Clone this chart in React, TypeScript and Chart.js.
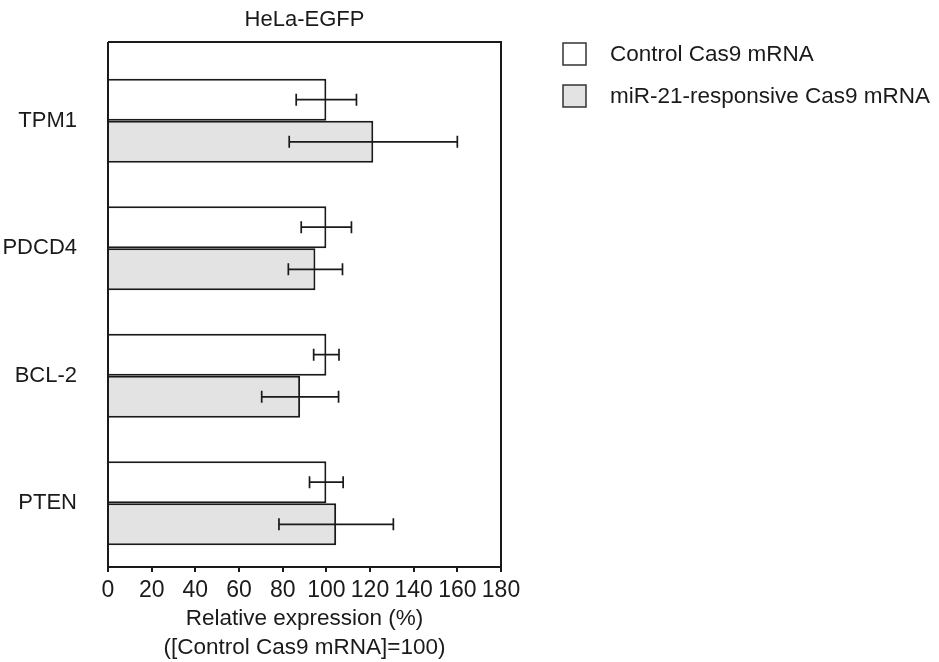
import React, { useEffect, useRef } from 'react';
import { Chart, registerables } from 'chart.js';

Chart.register(...registerables);

const categories = ['TPM1', 'PDCD4', 'BCL-2', 'PTEN'];
const seriesLabels = ['Control Cas9 mRNA', 'miR-21-responsive Cas9 mRNA'];
const controlValues = [100, 100, 100, 100];
const controlErrors = [13.8, 11.5, 5.8, 7.7];
const mirValues = [121.5, 95, 88, 104.5];
const mirErrors = [38.5, 12.4, 17.6, 26.2];
const chartTitle = 'HeLa-EGFP';
const xAxisTitle = ['Relative expression (%)', '([Control Cas9 mRNA]=100)'];
const xMin = 0;
const xMax = 180;
const xStep = 20;

const FONT = "'Liberation Sans', Arial, sans-serif";
const INK = '#1a1a1a';
const fills = ['#ffffff', '#e3e3e3'];
const errors = [controlErrors, mirErrors];

const framePlugin = {
  id: 'frameAndExtras',
  afterDatasetsDraw(chart: any) {
    const ctx = chart.ctx;
    const { left, right, top, bottom } = chart.chartArea;
    const xScale = chart.scales.x;
    ctx.save();
    // error bars
    ctx.strokeStyle = INK;
    ctx.lineWidth = 1.7;
    chart.data.datasets.forEach((ds: any, di: number) => {
      const meta = chart.getDatasetMeta(di);
      meta.data.forEach((bar: any, i: number) => {
        const v = ds.data[i];
        const e = errors[di][i];
        const x1 = xScale.getPixelForValue(v - e);
        const x2 = xScale.getPixelForValue(v + e);
        const y = bar.y;
        ctx.beginPath();
        ctx.moveTo(x1, y);
        ctx.lineTo(x2, y);
        ctx.moveTo(x1, y - 6);
        ctx.lineTo(x1, y + 6);
        ctx.moveTo(x2, y - 6);
        ctx.lineTo(x2, y + 6);
        ctx.stroke();
      });
    });
    // frame: top and right edges
    ctx.strokeStyle = INK;
    ctx.lineWidth = 2;
    const frameTop = top - 15;
    ctx.beginPath();
    ctx.moveTo(left, frameTop);
    ctx.lineTo(right, frameTop);
    ctx.lineTo(right, bottom);
    ctx.moveTo(left, frameTop);
    ctx.lineTo(left, bottom);
    ctx.stroke();
    // legend
    const bx = right + 62;
    ctx.font = `22.5px ${FONT}`;
    ctx.textBaseline = 'middle';
    ctx.textAlign = 'left';
    chart.data.datasets.forEach((ds: any, di: number) => {
      const by = frameTop + 1 + di * 42;
      ctx.fillStyle = fills[di];
      ctx.fillRect(bx, by, 23, 22);
      ctx.strokeStyle = '#333';
      ctx.lineWidth = 1.5;
      ctx.strokeRect(bx, by, 23, 22);
      ctx.fillStyle = INK;
      ctx.fillText(ds.label, bx + 47, by + 12);
    });
    ctx.restore();
  },
};

export default function App() {
  const ref = useRef<HTMLCanvasElement>(null);
  useEffect(() => {
    if (!ref.current) return;
    Chart.defaults.font.family = FONT;
    const chart = new Chart(ref.current, {
      type: 'bar',
      data: {
        labels: categories,
        datasets: [
          {
            label: seriesLabels[0],
            data: controlValues,
            backgroundColor: fills[0],
            borderColor: INK,
            borderWidth: 2,
            categoryPercentage: 0.66,
            barPercentage: 1.0,
          },
          {
            label: seriesLabels[1],
            data: mirValues,
            backgroundColor: fills[1],
            borderColor: INK,
            borderWidth: 2,
            categoryPercentage: 0.66,
            barPercentage: 1.0,
          },
        ],
      },
      options: {
        indexAxis: 'y',
        responsive: false,
        animation: false,
        layout: { padding: { left: 0, right: 438, top: 0, bottom: 0 } },
        plugins: {
          legend: { display: false },
          tooltip: { enabled: false },
          title: {
            display: true,
            text: chartTitle,
            fullSize: false,
            color: INK,
            font: { size: 22, weight: 'normal', family: FONT, lineHeight: 1.2 },
            padding: { top: 7, bottom: 23.6 },
          },
        },
        scales: {
          x: {
            min: xMin,
            max: xMax,
            ticks: {
              stepSize: xStep,
              color: INK,
              font: { size: 23, family: FONT, lineHeight: 1.0 },
              padding: 7.5,
              maxRotation: 0,
              autoSkip: false,
            },
            grid: {
              drawOnChartArea: false,
              drawTicks: true,
              tickLength: 5,
              color: INK,
              lineWidth: 2,
            },
            border: { display: true, color: INK, width: 2 },
            title: {
              display: true,
              text: xAxisTitle,
              color: INK,
              font: { size: 22.5, family: FONT, lineHeight: 1.27 },
              padding: { top: 0, bottom: 0 },
            },
            afterFit: (scale: any) => {
              scale.height = 95;
            },
          },
          y: {
            ticks: {
              color: INK,
              font: { size: 22, family: FONT },
              padding: 31,
            },
            grid: { display: false, drawTicks: false },
            border: { display: true, color: INK, width: 2 },
            afterFit: (scale: any) => {
              scale.width = 108;
            },
          },
        },
      },
      plugins: [framePlugin],
    });
    return () => chart.destroy();
  }, []);
  return (
    <div style={{ position: 'absolute', left: 0, top: 0, width: 939, height: 662, background: '#fff' }}>
      <canvas ref={ref} width={939} height={662} />
    </div>
  );
}
